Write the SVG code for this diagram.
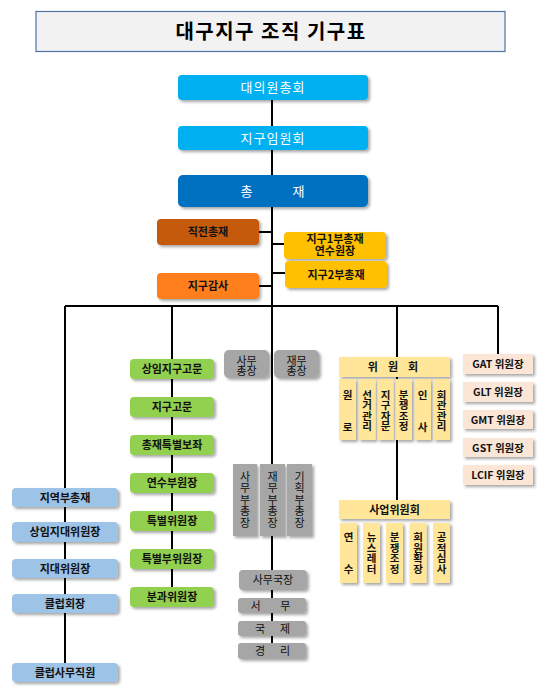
<svg xmlns="http://www.w3.org/2000/svg" width="545" height="693" viewBox="0 0 545 693">
<defs>
<filter id="sh" x="-20%" y="-20%" width="150%" height="160%">
<feDropShadow dx="2" dy="2" stdDeviation="1.4" flood-color="#000" flood-opacity="0.35"/>
</filter>
<style>
text{font-family:"Noto Sans CJK KR","Noto Sans",sans-serif;text-anchor:middle;}
.w{fill:#fff;font-size:13px;letter-spacing:1px;}
.b{fill:#111;font-size:11px;font-weight:bold;}
.s{fill:#111;font-size:10.5px;font-weight:bold;}
.g{fill:#111;font-size:11px;}
.v{writing-mode:vertical-rl;text-orientation:upright;text-anchor:start;}
.ln{stroke:#000;stroke-width:2;fill:none;}
.top{fill:#00b0f0;filter:url(#sh);}
.grn{fill:#92d050;filter:url(#sh);}
.blu{fill:#9dc3e6;filter:url(#sh);}
.gry{fill:#a6a6a6;filter:url(#sh);}
.yel{fill:#ffe699;filter:url(#sh);}
.pch{fill:#fbe5d6;filter:url(#sh);}
.org{fill:#ffc000;filter:url(#sh);}
</style>
</defs>
<rect width="545" height="693" fill="#fff"/>

<g id="title">
<rect x="36" y="11.5" width="469" height="40" fill="#f2f2f2" stroke="#4f73a3" stroke-width="1.2"/>
<text x="271" y="39" style="font-size:20px;font-weight:bold;letter-spacing:1.5px;fill:#000">대구지구 조직 기구표</text>
</g>

<g id="connectors">
<path class="ln" d="M272 100V655"/>
<path class="ln" d="M259 232H272M272 244H284M272 273H285M259 286H272"/>
<path class="ln" d="M65 306H498" stroke-width="2.5"/>
<path class="ln" d="M65 306V663M172 306V587M397 306V500M498 306V354"/>
</g>

<g id="n-daeuiwon"><rect class="top" x="178" y="75" width="190" height="25" rx="4"/><text class="w" x="273" y="92">대의원총회</text></g>
<g id="n-imwon"><rect class="top" x="178" y="126" width="190" height="24" rx="4"/><text class="w" x="273" y="142.5">지구임원회</text></g>
<g id="n-chongjae"><rect x="178" y="175" width="190" height="32" rx="5" fill="#0070c0" filter="url(#sh)"/><text class="w" x="273" y="196" xml:space="preserve">총          재</text></g>

<g id="n-jikjeon"><rect x="157" y="219" width="102" height="26" rx="4" fill="#c55a11" filter="url(#sh)"/><text class="b" x="208" y="236">직전총재</text></g>
<g id="n-1bu"><rect class="org" x="284" y="232" width="102" height="27" rx="4"/><text class="b" x="335" y="243">지구1부총재<tspan x="335" dy="12">연수원장</tspan></text></g>
<g id="n-2bu"><rect class="org" x="285" y="261" width="102" height="27" rx="4"/><text class="b" x="336" y="278.5">지구2부총재</text></g>
<g id="n-gamsa"><rect x="157" y="273" width="102" height="26" rx="4" fill="#ff7f1f" filter="url(#sh)"/><text class="b" x="208" y="290">지구감사</text></g>

<g id="n-sangim-gomun"><rect class="grn" x="130" y="359" width="84" height="20" rx="4"/><text class="b" x="172" y="373">상임지구고문</text></g>
<g id="n-gomun"><rect class="grn" x="130" y="397" width="84" height="20" rx="4"/><text class="b" x="172" y="411">지구고문</text></g>
<g id="n-bojwa"><rect class="grn" x="130" y="435" width="84" height="20" rx="4"/><text class="b" x="172" y="449">총재특별보좌</text></g>
<g id="n-yeonsu"><rect class="grn" x="130" y="473" width="84" height="20" rx="4"/><text class="b" x="172" y="487">연수부원장</text></g>
<g id="n-teukbyeol"><rect class="grn" x="130" y="511" width="84" height="20" rx="4"/><text class="b" x="172" y="525">특별위원장</text></g>
<g id="n-teukbu"><rect class="grn" x="130" y="549" width="84" height="20" rx="4"/><text class="b" x="172" y="563">특별부위원장</text></g>
<g id="n-bungwa"><rect class="grn" x="130" y="587" width="84" height="20" rx="4"/><text class="b" x="172" y="601">분과위원장</text></g>

<g id="n-jiyeok"><rect class="blu" x="12" y="488" width="106" height="19" rx="4"/><text class="b" x="65" y="501.5">지역부총재</text></g>
<g id="n-sangim-jidae"><rect class="blu" x="12" y="522" width="106" height="20" rx="4"/><text class="b" x="65" y="536">상임지대위원장</text></g>
<g id="n-jidae"><rect class="blu" x="12" y="559" width="106" height="19" rx="4"/><text class="b" x="65" y="572.5">지대위원장</text></g>
<g id="n-club"><rect class="blu" x="12" y="594" width="106" height="19" rx="4"/><text class="b" x="65" y="607.5">클럽회장</text></g>
<g id="n-club-staff"><rect class="blu" x="12" y="663" width="106" height="19" rx="4"/><text class="b" x="65" y="676.5">클럽사무직원</text></g>

<g id="n-samu-chongjang"><rect class="gry" x="224" y="350" width="45" height="28" rx="5"/><text class="g" x="246.5" y="364.5">사무<tspan x="246.5" dy="10.5">총장</tspan></text></g>
<g id="n-jaemu-chongjang"><rect class="gry" x="274" y="350" width="45" height="28" rx="5"/><text class="g" x="296.5" y="364.5">재무<tspan x="296.5" dy="10.5">총장</tspan></text></g>

<g id="n-samu-bu"><rect class="gry" x="233" y="464" width="24" height="72"/><text class="g v" x="245" y="471" style="letter-spacing:0.5px">사무부총장</text></g>
<g id="n-jaemu-bu"><rect class="gry" x="260" y="464" width="25" height="72"/><text class="g v" x="272.5" y="471" style="letter-spacing:0.5px">재무부총장</text></g>
<g id="n-gihoek-bu"><rect class="gry" x="287" y="464" width="25" height="72"/><text class="g v" x="299.5" y="471" style="letter-spacing:0.5px">기획부총장</text></g>

<g id="n-samuguk"><rect class="gry" x="239" y="570" width="68" height="20" rx="4"/><text class="g" x="273" y="584">사무국장</text></g>
<g id="n-seomu"><rect class="gry" x="238" y="598" width="68" height="15" rx="3"/><text class="g" x="270.5" y="609.5" xml:space="preserve">서        무</text></g>
<g id="n-gukje"><rect class="gry" x="238" y="621" width="68" height="15" rx="3"/><text class="g" x="272.5" y="632.5" xml:space="preserve">국      제</text></g>
<g id="n-gyeongri"><rect class="gry" x="238" y="643" width="68" height="16" rx="3"/><text class="g" x="272.5" y="655" xml:space="preserve">경      리</text></g>

<g id="n-wiwonhoe"><rect class="yel" x="339" y="357" width="111" height="20"/><text class="b" x="393" y="371" xml:space="preserve">위    원    회</text></g>
<g id="n-wonro"><rect class="yel" x="339" y="379" width="17" height="61"/><text class="s" x="347.5" y="399">원</text><text class="s" x="347.5" y="430.5">로</text></g>
<g id="n-seongeo"><rect class="yel" x="358.5" y="379" width="17" height="61"/><text class="s v" x="367" y="389.5">선거관리</text></g>
<g id="n-jamun"><rect class="yel" x="377.5" y="379" width="16" height="61"/><text class="s v" x="385.5" y="389.5">지구자문</text></g>
<g id="n-bunjaeng1"><rect class="yel" x="395.5" y="379" width="16.5" height="61"/><text class="s v" x="403.7" y="389.5">분쟁조정</text></g>
<g id="n-insa"><rect class="yel" x="414.5" y="379" width="16.5" height="61"/><text class="s" x="422.7" y="399">인</text><text class="s" x="422.7" y="430.5">사</text></g>
<g id="n-hoegwan"><rect class="yel" x="433.5" y="379" width="16.5" height="61"/><text class="s v" x="441.7" y="389.5">회관관리</text></g>

<g id="n-saeop"><rect class="yel" x="339" y="500" width="111" height="19"/><text class="b" x="394.5" y="513.5">사업위원회</text></g>
<g id="n-yeonsu2"><rect class="yel" x="340" y="523" width="17" height="60"/><text class="s" x="348.5" y="541">연</text><text class="s" x="348.5" y="573">수</text></g>
<g id="n-news"><rect class="yel" x="363" y="523" width="17" height="60"/><text class="s v" x="371.5" y="532">뉴스레터</text></g>
<g id="n-bunjaeng2"><rect class="yel" x="386" y="523" width="17" height="60"/><text class="s v" x="394.5" y="532">분쟁조정</text></g>
<g id="n-hwakjang"><rect class="yel" x="409.5" y="523" width="17" height="60"/><text class="s v" x="418" y="532">회원확장</text></g>
<g id="n-simsa"><rect class="yel" x="433" y="523" width="17" height="60"/><text class="s v" x="441.5" y="532">공적심사</text></g>

<g id="n-gat"><rect class="pch" x="463" y="354" width="70" height="20"/><text class="s" x="498" y="368">GAT 위원장</text></g>
<g id="n-glt"><rect class="pch" x="463" y="382" width="70" height="20"/><text class="s" x="498" y="396">GLT 위원장</text></g>
<g id="n-gmt"><rect class="pch" x="463" y="410" width="70" height="19"/><text class="s" x="498" y="423.5">GMT 위원장</text></g>
<g id="n-gst"><rect class="pch" x="463" y="438" width="70" height="19"/><text class="s" x="498" y="451.5">GST 위원장</text></g>
<g id="n-lcif"><rect class="pch" x="463" y="465" width="70" height="20"/><text class="s" x="498" y="479">LCIF 위원장</text></g>
</svg>
